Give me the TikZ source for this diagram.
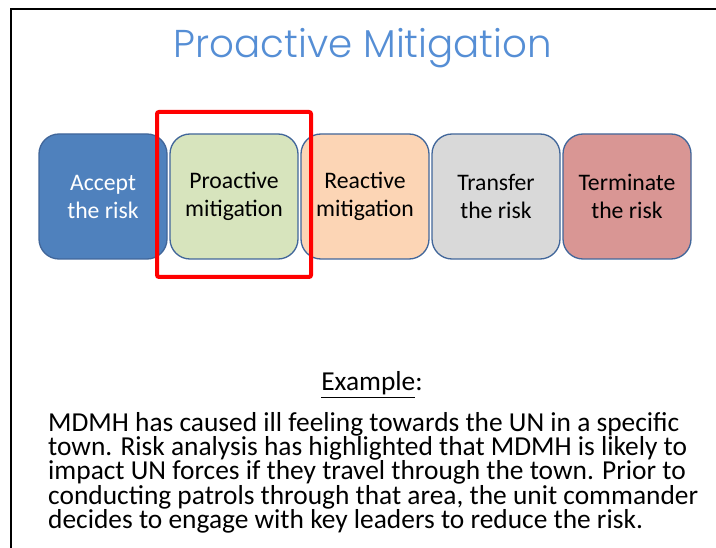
\documentclass[tikz,border=0pt]{standalone}
\usepackage{fontspec}
\setmainfont{Carlito}
\newfontfamily\titlefont{Poppins Light}
\definecolor{titleblue}{HTML}{558ED5}
\definecolor{boxline}{HTML}{41669A}
\definecolor{acceptfill}{HTML}{4F81BD}
\definecolor{proactfill}{HTML}{D7E4BD}
\definecolor{reactfill}{HTML}{FCD5B5}
\definecolor{transfill}{HTML}{D9D9D9}
\definecolor{termfill}{HTML}{D99694}
\tikzset{
  optionbox/.style={draw=boxline, line width=1.3pt, rounded corners=20pt,
    minimum width=128pt, minimum height=125pt, inner sep=0pt, align=center,
    font=\fontsize{23.7}{28}\selectfont},
  highlight/.style={draw=red, line width=4pt, rounded corners=2pt},
}
\begin{document}
\begin{tikzpicture}[x=1pt,y=-1pt]
\useasboundingbox (0,0) rectangle (716,548);
\fill[white] (0,0) rectangle (716,548);
% frame
\draw[line width=2.5pt] (11,560) -- (11,9) -- (730,9);
% title
\node[anchor=base, text=titleblue, inner sep=0pt, font=\titlefont\fontsize{38.8}{42}\selectfont] (title) at (363,58) {Proactive Mitigation};
% option boxes
\node[optionbox, fill=acceptfill, text=white] (accept) at (103,196.5) {Accept\\the risk};
\node[optionbox, fill=proactfill] (proact) at (234,196.5) {Proactive\\mitigation};
\node[optionbox, fill=reactfill] (react) at (365,196.5) {Reactive\\mitigation};
\node[optionbox, fill=transfill] (trans) at (496,196.5) {Transfer\\the risk};
\node[optionbox, fill=termfill] (term) at (627,196.5) {Terminate\\the risk};
% highlight
\draw[highlight] (157,112) rectangle (311,277);
% example
\node[anchor=base, inner sep=0pt, font=\fontsize{27.4}{25}\selectfont] (exlabel) at (372,391) {\underline{Example}:};
\node[anchor=base west, inner sep=0pt, align=left, font=\fontsize{27.4}{24.5}\selectfont] (body) at (48,529) {MDMH has caused ill feeling towards the UN in a specific\\town. Risk analysis has highlighted that MDMH is likely to\\impact UN forces if they travel through the town. Prior to\\conducting patrols through that area, the unit commander\\decides to engage with key leaders to reduce the risk.};
\end{tikzpicture}
\end{document}
